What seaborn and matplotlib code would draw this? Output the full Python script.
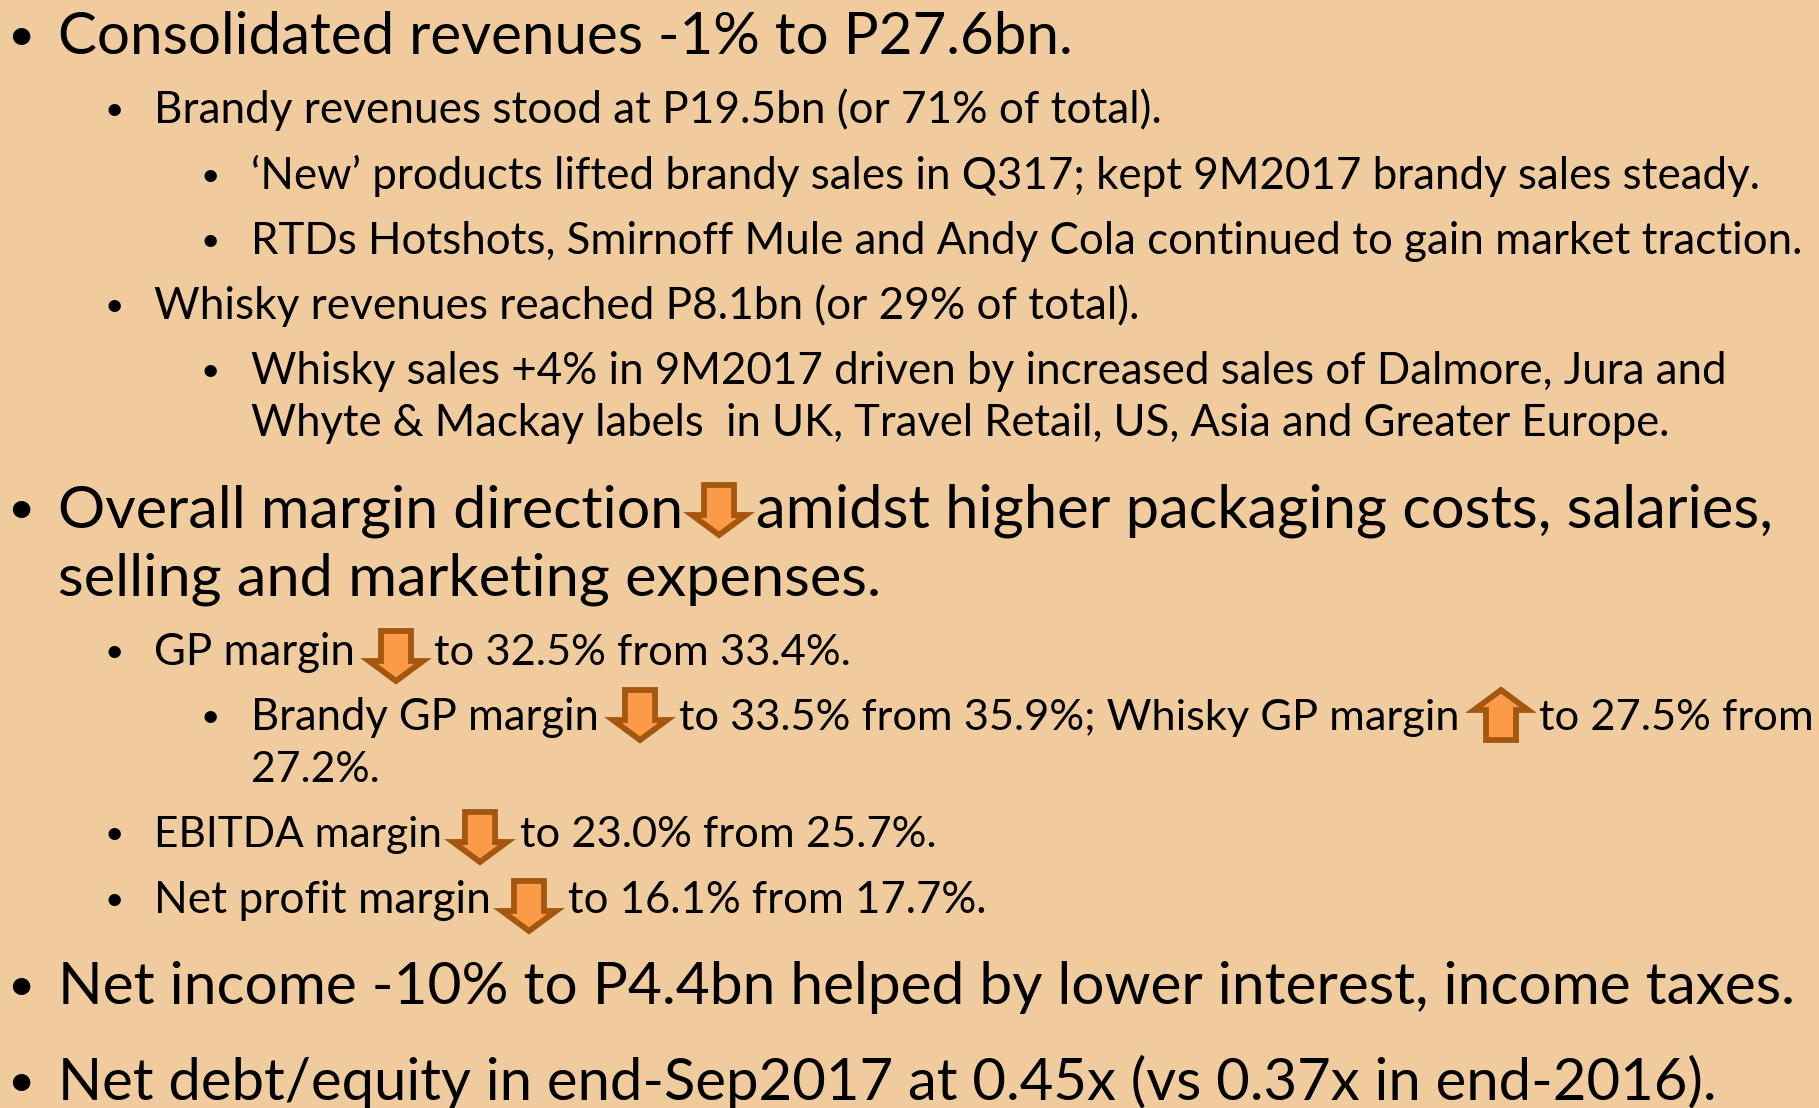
import matplotlib
matplotlib.use('Agg')
import matplotlib.pyplot as plt
from matplotlib.patches import Polygon
import seaborn as sns

# Textos do slide, um por trecho (as setas quebram a linha em mais de um trecho)
texts = [
    'Consolidated revenues -1% to P27.6bn.',
    'Brandy revenues stood at P19.5bn (or 71% of total).',
    '‘New’ products lifted brandy sales in Q317; kept 9M2017 brandy sales steady.',
    'RTDs Hotshots, Smirnoff Mule and Andy Cola continued to gain market traction.',
    'Whisky revenues reached P8.1bn (or 29% of total).',
    'Whisky sales +4% in 9M2017 driven by increased sales of Dalmore, Jura and',
    'Whyte & Mackay labels  in UK, Travel Retail, US, Asia and Greater Europe.',
    'Overall margin direction',
    'amidst higher packaging costs, salaries,',
    'selling and marketing expenses.',
    'GP margin',
    'to 32.5% from 33.4%.',
    'Brandy GP margin',
    'to 33.5% from 35.9%; Whisky GP margin',
    'to 27.5% from',
    '27.2%.',
    'EBITDA margin',
    'to 23.0% from 25.7%.',
    'Net profit margin',
    'to 16.1% from 17.7%.',
    'Net income -10% to P4.4bn helped by lower interest, income taxes.',
    'Net debt/equity in end-Sep2017 at 0.45x (vs 0.37x in end-2016).',
]

# Posição de cada trecho em pixels: esquerda, direita e linha de base
lefts = [58, 154, 251, 251, 154, 251, 251, 58, 756, 58, 154, 434, 251, 679, 1539, 251, 154, 520, 154, 568, 58, 58]
rights = [1073, 1162, 1760, 1802, 1140, 1725, 1673, 683, 1770, 880, 355, 851, 599, 1460, 1814, 380, 442, 937, 491, 986, 1797, 1717]
baselines = [54, 123, 189, 254, 319, 384, 436, 527, 527, 596, 665, 665, 730, 730, 730, 782, 847, 847, 913, 913, 1004, 1100]
sizes = [40, 28, 28, 28, 28, 28, 28, 40, 40, 40, 28, 28, 28, 28, 28, 28, 28, 28, 28, 28, 40, 40]

# Marcadores: (x, linha de base, tamanho)
bullets = [(21, 50, 34), (114, 120, 24), (210, 186, 24), (210, 251, 24), (114, 316, 24), (210, 381, 24),
           (21, 523, 34), (114, 662, 24), (210, 727, 24), (114, 844, 24), (114, 910, 24), (21, 1000, 34), (21, 1096, 34)]

# Setas: centro x, topo y, direção
arrow_x = [719, 396, 640, 1501, 480, 529]
arrow_top = [482, 628, 687, 687, 809, 878]
arrow_dir = ['down', 'down', 'down', 'up', 'down', 'down']

sns.set_theme(style='white')
plt.rcParams['font.family'] = ['Lato', 'DejaVu Sans']

BG = '#F0CB9D'

fig = plt.figure(figsize=(18.19, 11.08), dpi=100, facecolor=BG)
ax = fig.add_axes([0, 0, 1, 1])
ax.set_xlim(0, 1819)
ax.set_ylim(1108, 0)
ax.axis('off')

renderer = fig.canvas.get_renderer()

# Ajusta o tamanho da fonte de cada trecho para bater com a largura do original
for s, left, right, base, size in zip(texts, lefts, rights, baselines, sizes):
    t = ax.text(left, base, s, fontsize=size, color='black', ha='left', va='baseline')
    w = t.get_window_extent(renderer).width
    t.set_fontsize(size * (right - left) / w)

for x, base, size in bullets:
    ax.text(x, base, '•', fontsize=size, color='black', ha='center', va='baseline')


def arrow_points(cx, top, direction):
    # O esquadro (miter) do contorno avança para fora, por isso a seta é menor que o tamanho externo
    half, shaft, height, head = 27, 15, 50, 20
    pts = [(-shaft, 0), (shaft, 0), (shaft, height - head), (half, height - head),
           (0, height), (-half, height - head), (-shaft, height - head)]
    if direction == 'down':
        return [(cx + a, top + 3 + b) for a, b in pts]
    return [(cx + a, top + 53 - b) for a, b in pts]


for cx, top, direction in zip(arrow_x, arrow_top, arrow_dir):
    ax.add_patch(Polygon(arrow_points(cx, top, direction), closed=True, facecolor='#FB9A47',
                         edgecolor='#A5570F', linewidth=4.2, joinstyle='miter'))

fig.savefig('out.png', dpi=100, facecolor=BG)
